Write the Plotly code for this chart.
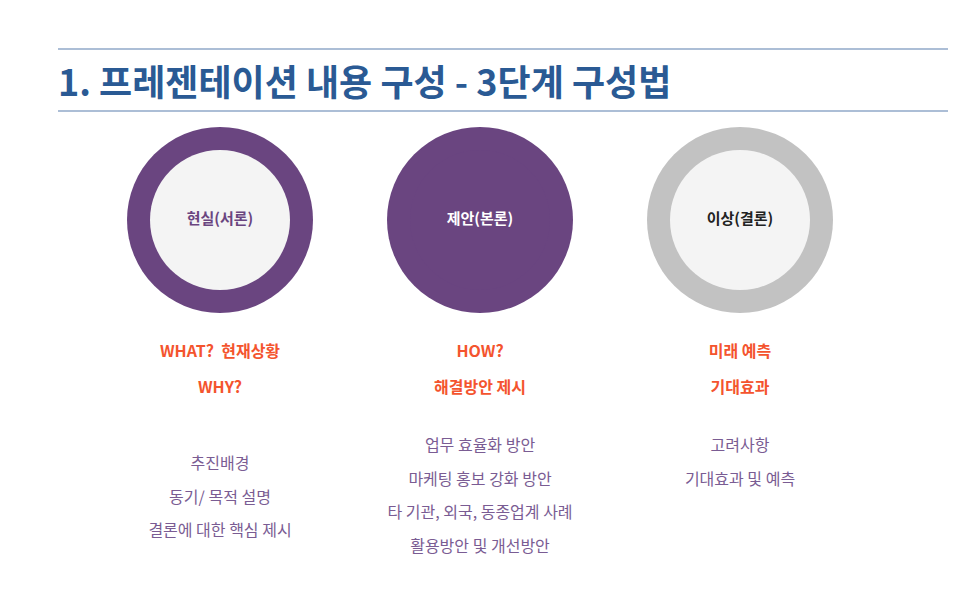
import plotly.graph_objects as go

# slide content
title = "1. 프레젠테이션 내용 구성 - 3단계 구성법"
stages = ["<b>현실(서론)</b>", "<b>제안(본론)</b>", "<b>이상(결론)</b>"]
ring_colors = ["#6a4580", "#6a4580", "#c2c2c2"]
inner_colors = ["#f4f4f4", "#6a4580", "#f4f4f4"]
label_colors = ["#6a4580", "#ffffff", "#222222"]
headlines = [
    ["WHAT?  현재상황", "WHY?"],
    ["HOW?", "해결방안 제시"],
    ["미래 예측", "기대효과"],
]
details = [
    ["추진배경", "동기/ 목적 설명", "결론에 대한 핵심 제시"],
    ["업무 효율화 방안", "마케팅 홍보 강화 방안", "타 기관, 외국, 동종업계 사례", "활용방안 및 개선방안"],
    ["고려사항", "기대효과 및 예측"],
]
detail_top = [465, 447, 447]

col_x = [220, 480, 740]
circle_y = 220

fig = go.Figure()
fig.add_trace(go.Scatter(
    x=col_x, y=[circle_y] * 3, mode="markers",
    marker=dict(size=186, color=ring_colors, line=dict(width=0)),
    hoverinfo="skip", showlegend=False))
fig.add_trace(go.Scatter(
    x=col_x, y=[circle_y] * 3, mode="markers+text",
    marker=dict(size=140, color=inner_colors, line=dict(width=0)),
    text=stages, textposition="middle center",
    textfont=dict(family="Noto Sans CJK KR", size=15, color=label_colors),
    hoverinfo="skip", showlegend=False))

for i, x in enumerate(col_x):
    fig.add_trace(go.Scatter(
        x=[x] * len(headlines[i]), y=[353 + 36 * k for k in range(len(headlines[i]))],
        mode="text", text=["<b>" + t + "</b>" for t in headlines[i]],
        textfont=dict(family="Noto Sans CJK KR", size=16, color="#f4542e"),
        hoverinfo="skip", showlegend=False))
    fig.add_trace(go.Scatter(
        x=[x] * len(details[i]), y=[detail_top[i] + 33.7 * k for k in range(len(details[i]))],
        mode="text", text=details[i],
        textfont=dict(family="Noto Sans CJK KR", size=16, color="#7a5c93"),
        hoverinfo="skip", showlegend=False))

fig.add_shape(type="line", x0=58, x1=952, y0=49, y1=49, line=dict(color="#5b7fae", width=1.2))
fig.add_shape(type="line", x0=58, x1=952, y0=111, y1=111, line=dict(color="#5b7fae", width=1.2))
fig.add_annotation(x=56, y=80, xanchor="left", yanchor="middle", showarrow=False,
                   text="<b>" + title + "</b>",
                   font=dict(family="Noto Sans CJK KR", size=36, color="#2a5a94"))

# page body has an 8px margin, so shift the data window to keep pixel coordinates
fig.update_layout(
    width=956, height=596, margin=dict(l=0, r=0, t=0, b=0),
    paper_bgcolor="white", plot_bgcolor="white",
    xaxis=dict(range=[8, 964], visible=False, fixedrange=True),
    yaxis=dict(range=[604, 8], visible=False, fixedrange=True),
)
fig.write_html("out.html")
